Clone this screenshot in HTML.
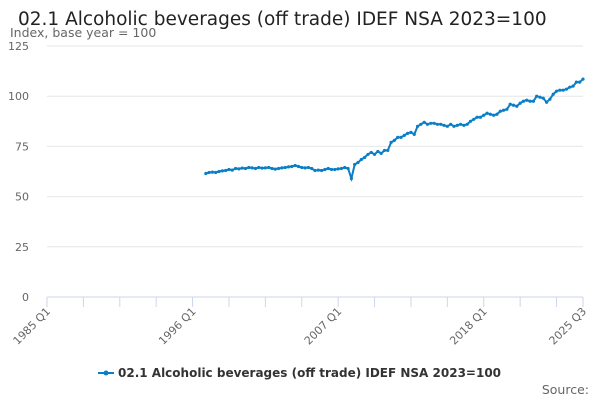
<!DOCTYPE html>
<html><head><meta charset="utf-8"><style>
body{margin:0;width:600px;height:400px;background:#fff;font-family:"DejaVu Sans",sans-serif;overflow:hidden}
</style></head><body>
<svg width="600" height="400" font-family="DejaVu Sans, sans-serif">
<text x="18" y="25" font-size="18.5" fill="#222">02.1 Alcoholic beverages (off trade) IDEF NSA 2023=100</text>
<text x="10" y="37" font-size="12.5" fill="#666">Index, base year = 100</text>
<g id="grid"></g><g id="xaxis"></g><g id="series"></g>
<g>
<line x1="98" y1="373" x2="114" y2="373" stroke="#0a7fc7" stroke-width="2"/>
<circle cx="106" cy="373" r="2.5" fill="#0a7fc7"/>
<text x="118" y="377" font-size="12" font-weight="bold" fill="#333">02.1 Alcoholic beverages (off trade) IDEF NSA 2023=100</text>
</g>
<text x="589" y="394" font-size="12.5" fill="#666" text-anchor="end">Source:</text>
</svg>
<script>
const yTicks=[0,25,50,75,100,125];
const xTickLabels=["1985 Q1","1996 Q1","2007 Q1","2018 Q1","2025 Q3"];
const xTickIdx=[0,44,88,132,162];
const startIdx=48;
const values=[61.5,62,62.2,62,62.5,62.8,63,63.5,63.2,64,63.8,64.2,64,64.5,64.3,64,64.5,64.2,64.3,64.5,64,63.7,64,64.3,64.5,64.8,65,65.5,65,64.5,64.3,64.5,64,63,63.2,63,63.5,64,63.5,63.5,63.8,64,64.5,64,59,66,67,68.5,69.5,71,72,71,72.5,71.5,73,73,77,78,79.5,79.5,80.5,81.5,82,81,85,86,87,86,86.5,86.5,86,86,85.5,85,86,85,85.5,86,85.5,86,87.5,88.5,89.5,89.5,90.5,91.5,91,90.5,91,92.5,93,93.5,96,95.5,95,96.5,97.5,98,97.5,97.5,100,99.5,99,97,98.5,101,102.5,103,103,103.5,104.5,105,107,107,108.5];
const NS="http://www.w3.org/2000/svg";
const X0=47,X1=583,Y0=297,Y1=46,N=162;
const xs=i=>X0+(X1-X0)*i/N, ys=v=>Y0-(Y0-Y1)*v/125;
function mk(t,a,p){const e=document.createElementNS(NS,t);for(const k in a)e.setAttribute(k,a[k]);p.appendChild(e);return e;}
const grid=document.getElementById('grid');
yTicks.forEach(v=>{
 const l=mk('line',{x1:X0,x2:X1,y1:ys(v),y2:ys(v),stroke:v===0?'#ccd6eb':'#e6e6e6','stroke-width':1},grid);
 
 
 const t=mk('text',{x:29,y:ys(v)+4,'font-size':11,fill:'#666','text-anchor':'end'},grid);
 t.textContent=v;
 
 
});
const xa=document.getElementById('xaxis');
for(let i=0;i<=N;i+=11){
 const tk=mk('line',{x1:xs(i),x2:xs(i),y1:Y0,y2:Y0+10,stroke:'#ccd6eb'},xa);
 
 
}
mk('line',{x1:xs(N),x2:xs(N),y1:Y0,y2:Y0+10,stroke:'#ccd6eb'},xa);
xTickLabels.forEach((s,k)=>{
 const x=xs(xTickIdx[k]),y=Y0+15;
 const t=mk('text',{x:x+4,y:y,'font-size':11,fill:'#666','text-anchor':'end',transform:`rotate(-45 ${x+4} ${y})`},xa);
 t.textContent=s;
 
 
});
const sg=document.getElementById('series');
const pts=values.map((v,i)=>xs(startIdx+i).toFixed(1)+','+ys(v).toFixed(1)).join(' ');
const pl=mk('polyline',{points:pts,fill:'none',stroke:'#0a7fc7','stroke-width':2},sg);


values.forEach((v,i)=>{
 const c=mk('circle',{cx:xs(startIdx+i),cy:ys(v),r:1.6,fill:'#0a7fc7'},sg);
 
 
});
</script>
</body></html>
